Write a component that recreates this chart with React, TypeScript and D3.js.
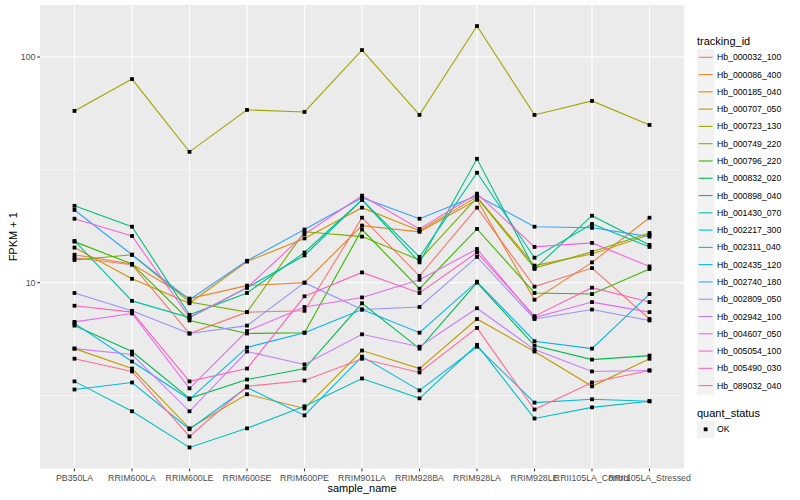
import React from 'react';
import * as d3 from 'd3';

const samples = ['PB350LA', 'RRIM600LA', 'RRIM600LE', 'RRIM600SE', 'RRIM600PE', 'RRIM901LA', 'RRIM928BA', 'RRIM928LA', 'RRIM928LE', 'RRII105LA_Control', 'RRII105LA_Stressed'];

const trackingIds = ['Hb_000032_100', 'Hb_000086_400', 'Hb_000185_040', 'Hb_000707_050', 'Hb_000723_130', 'Hb_000749_220', 'Hb_000796_220', 'Hb_000832_020', 'Hb_000898_040', 'Hb_001430_070', 'Hb_002217_300', 'Hb_002311_040', 'Hb_002435_120', 'Hb_002740_180', 'Hb_002809_050', 'Hb_002942_100', 'Hb_004607_050', 'Hb_005054_100', 'Hb_005490_030', 'Hb_089032_040'];

// FPKM + 1 per sample
const hb000032_100 = [12.9, 12.0, 5.95, 7.4, 7.5, 19.4, 10.7, 21.5, 9.6, 11.6, 6.9];
const hb000086_400 = [13.3, 12.1, 8.5, 9.7, 10.0, 17.9, 16.8, 23.3, 8.4, 12.3, 19.4];
const hb000185_040 = [14.3, 10.4, 8.1, 12.4, 15.7, 21.5, 17.0, 24.0, 11.9, 13.4, 16.3];
const hb000707_050 = [5.1, 4.16, 2.26, 3.2, 2.77, 5.0, 4.16, 6.9, 4.95, 3.47, 4.6];
const hb000723_130 = [57.7, 79.9, 38.0, 58.3, 57.1, 107.4, 55.4, 137.2, 55.4, 63.9, 50.0];
const hb000749_220 = [12.6, 13.3, 8.2, 7.4, 16.8, 16.0, 12.6, 23.8, 11.6, 13.7, 16.6];
const hb000796_220 = [15.2, 12.1, 6.8, 5.95, 6.0, 17.2, 9.4, 17.3, 9.0, 8.9, 11.5];
const hb000832_020 = [6.45, 4.95, 3.07, 3.72, 4.16, 8.1, 5.1, 10.0, 5.26, 4.56, 4.75];
const hb000898_040 = [21.9, 17.7, 7.2, 9.0, 13.6, 23.3, 12.3, 35.4, 11.5, 19.8, 14.7];
const hb001430_070 = [15.3, 8.3, 7.0, 9.5, 13.2, 23.3, 13.0, 30.7, 12.9, 18.2, 14.4];
const hb002217_300 = [3.65, 2.69, 1.86, 2.26, 2.83, 3.76, 3.07, 5.3, 2.5, 2.8, 2.98];
const hb002311_040 = [3.36, 3.61, 2.24, 3.43, 2.58, 4.7, 3.33, 5.2, 2.94, 3.04, 2.98];
const hb002435_120 = [6.6, 4.47, 3.04, 5.16, 6.0, 7.6, 6.0, 10.1, 5.5, 5.1, 8.9];
const hb002740_180 = [21.0, 13.3, 8.4, 12.5, 17.2, 23.8, 19.2, 24.3, 17.7, 17.5, 16.0];
const hb002809_050 = [9.0, 7.5, 5.95, 6.45, 10.0, 7.6, 7.8, 13.0, 6.9, 7.6, 6.8];
const hb002942_100 = [5.1, 4.8, 2.69, 4.95, 4.34, 5.9, 5.2, 7.7, 5.05, 4.04, 4.08];
const hb004607_050 = [6.7, 7.3, 3.4, 6.1, 7.8, 8.6, 10.3, 14.1, 7.0, 8.2, 7.4];
const hb005054_100 = [19.2, 16.1, 7.0, 9.5, 16.4, 24.3, 17.3, 24.8, 14.4, 15.0, 11.8];
const hb005490_030 = [7.9, 7.4, 3.65, 4.16, 8.7, 11.1, 9.0, 13.6, 7.1, 9.5, 8.2];
const hb089032_040 = [4.6, 4.04, 2.08, 3.47, 3.68, 4.6, 4.0, 6.3, 2.74, 3.61, 4.08];

const seriesValues = [hb000032_100, hb000086_400, hb000185_040, hb000707_050, hb000723_130, hb000749_220, hb000796_220, hb000832_020, hb000898_040, hb001430_070, hb002217_300, hb002311_040, hb002435_120, hb002740_180, hb002809_050, hb002942_100, hb004607_050, hb005054_100, hb005490_030, hb089032_040];

const yTicks = [10, 100];
const yMinor = [Math.sqrt(10), Math.sqrt(1000)];

const colors = ['#F8766D', '#EA8331', '#D89000', '#C09B00', '#A3A500', '#7CAE00', '#39B600', '#00BB4E', '#00BF7D', '#00C1A3', '#00BFC4', '#00BAE0', '#00B0F6', '#35A2FF', '#9590FF', '#C77CFF', '#E76BF3', '#FA62DB', '#FF62BC', '#FF6C91'];

const FONT = '"Liberation Sans", Arial, Helvetica, sans-serif';

export default function App() {
  const W = 800, H = 500;
  const pL = 40, pR = 684, pT = 5, pB = 468.5;

  const all = seriesValues.flat();
  const lmin = Math.log10(d3.min(all) as number);
  const lmax = Math.log10(d3.max(all) as number);
  const ex = (lmax - lmin) * 0.05;

  const x = d3.scalePoint<string>().domain(samples).range([pL, pR]).padding(0.6);
  const y = d3.scaleLog().domain([Math.pow(10, lmin - ex), Math.pow(10, lmax + ex)]).range([pB, pT]);

  const line = d3.line<number>().x((_, i) => x(samples[i]) as number).y((v) => y(v));

  const legX = 697;
  const legY0 = 57.3;
  const legStep = 17.28;

  return (
    <svg width={W} height={H} style={{ position: 'absolute', left: 0, top: 0 }} fontFamily={FONT}>
      <rect x={0} y={0} width={W} height={H} fill="#ffffff" />
      <rect x={pL} y={pT} width={pR - pL} height={pB - pT} fill="#EBEBEB" />
      {yMinor.map((t) => (
        <line key={'mn' + t} x1={pL} x2={pR} y1={y(t)} y2={y(t)} stroke="#ffffff" strokeWidth={0.55} />
      ))}
      {yTicks.map((t) => (
        <line key={'mj' + t} x1={pL} x2={pR} y1={y(t)} y2={y(t)} stroke="#ffffff" strokeWidth={1.07} />
      ))}
      {samples.map((s) => (
        <line key={'vx' + s} x1={x(s)} x2={x(s)} y1={pT} y2={pB} stroke="#ffffff" strokeWidth={1.07} />
      ))}
      {seriesValues.map((vals, i) => (
        <path key={'l' + i} d={line(vals) as string} fill="none" stroke={colors[i]} strokeWidth={1.1} />
      ))}
      {seriesValues.map((vals, i) =>
        vals.map((v, j) => (
          <rect key={'p' + i + '_' + j} x={(x(samples[j]) as number) - 1.9} y={y(v) - 1.9} width={3.8} height={3.8} fill="#000000" />
        ))
      )}
      {/* y axis */}
      {yTicks.map((t) => (
        <g key={'yt' + t}>
          <line x1={pL - 2.75} x2={pL} y1={y(t)} y2={y(t)} stroke="#333333" strokeWidth={1.07} />
          <text x={pL - 4.5} y={y(t)} dy="0.35em" textAnchor="end" fontSize={8.8} fill="#4D4D4D">{t}</text>
        </g>
      ))}
      {/* x axis */}
      {samples.map((s) => (
        <g key={'xt' + s}>
          <line x1={x(s)} x2={x(s)} y1={pB} y2={pB + 2.75} stroke="#333333" strokeWidth={1.07} />
          <text x={x(s)} y={pB + 12.8} textAnchor="middle" fontSize={8.8} fill="#4D4D4D">{s}</text>
        </g>
      ))}
      <text x={(pL + pR) / 2} y={492} textAnchor="middle" fontSize={11} fill="#000000">sample_name</text>
      <text transform={`translate(17,${(pT + pB) / 2}) rotate(-90)`} textAnchor="middle" fontSize={11} fill="#000000">FPKM + 1</text>

      {/* legend: tracking_id */}
      <text x={legX} y={44.5} fontSize={11} fill="#000000">tracking_id</text>
      {trackingIds.map((id, i) => {
        const cy = legY0 + i * legStep;
        return (
          <g key={'lg' + id}>
            <rect x={legX} y={cy - 8.6} width={17.3} height={17.3} fill="#F2F2F2" />
            <line x1={legX + 1.7} x2={legX + 15.6} y1={cy} y2={cy} stroke={colors[i]} strokeWidth={1.1} />
            <text x={legX + 20} y={cy} dy="0.35em" fontSize={8.7} fill="#000000">{id}</text>
          </g>
        );
      })}
      {/* legend: quant_status */}
      <text x={legX} y={416.5} fontSize={11} fill="#000000">quant_status</text>
      <rect x={legX} y={429.3 - 8.6} width={17.3} height={17.3} fill="#F2F2F2" />
      <rect x={legX + 8.65 - 1.9} y={429.3 - 1.9} width={3.8} height={3.8} fill="#000000" />
      <text x={legX + 20} y={429.3} dy="0.35em" fontSize={8.7} fill="#000000">OK</text>
    </svg>
  );
}
